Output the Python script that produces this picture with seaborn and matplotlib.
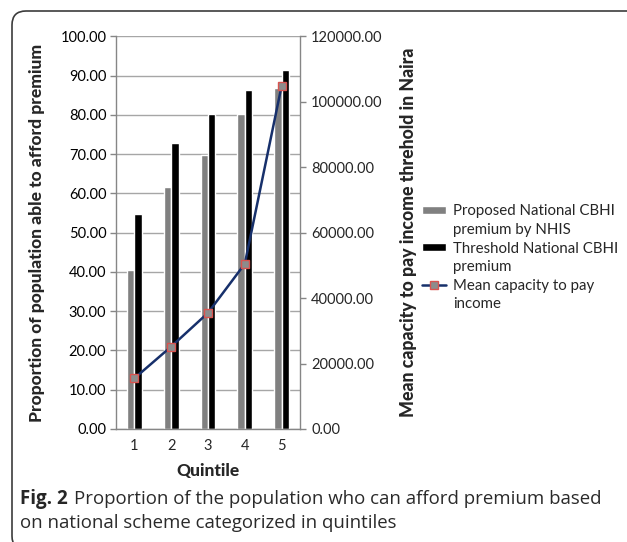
import numpy as np
import pandas as pd
import matplotlib
matplotlib.use("Agg")
import matplotlib.pyplot as plt
import seaborn as sns
from matplotlib.patches import Patch, FancyBboxPatch
from matplotlib.lines import Line2D
from matplotlib.transforms import IdentityTransform

# ---- data ----
quintiles = ["1", "2", "3", "4", "5"]
proposed_nhis = [40.6, 61.6, 69.9, 80.3, 87.0]
threshold_cbhi = [54.8, 72.9, 80.2, 86.3, 91.5]
mean_capacity = [15500, 25200, 35500, 50500, 104900]
left_ticks = [0, 10, 20, 30, 40, 50, 60, 70, 80, 90, 100]
right_ticks = [0, 20000, 40000, 60000, 80000, 100000, 120000]
series_names = ["Proposed National CBHI premium by NHIS", "Threshold National CBHI premium"]

sns.set_theme(style="white")
plt.rcParams['font.family'] = ['Lato', 'DejaVu Sans']

df = pd.DataFrame({
    "Quintile": quintiles * 2,
    "value": proposed_nhis + threshold_cbhi,
    "series": [series_names[0]] * 5 + [series_names[1]] * 5,
})

fig = plt.figure(figsize=(6.27, 5.42), dpi=100)
ax = fig.add_axes([0.185, 0.2085, 0.2935, 0.7242])

sns.barplot(data=df, x="Quintile", y="value", hue="series",
            palette=["#808080", "#000000"], width=0.4, gap=0,
            saturation=1, ax=ax, legend=False)
ax.set_xlim(-0.5, 4.5)
ax.set_ylim(0, 100)
ax.set_yticks(left_ticks)
ax.set_yticklabels([f"{v:.2f}" for v in left_ticks])
ax.yaxis.grid(True, color="#a6a6a6", linewidth=1.0)
ax.set_axisbelow(True)
for s in ["top", "right"]:
    ax.spines[s].set_visible(False)
for s in ["left", "bottom"]:
    ax.spines[s].set_color("#868686")
    ax.spines[s].set_linewidth(1.0)
ax.tick_params(axis="y", which="both", left=True, length=4, width=1,
               color="#868686", labelsize=10.5, pad=3, labelcolor="#000000")
ax.tick_params(axis="x", bottom=False, labelsize=10.5, pad=1)
ax.set_xlabel("Quintile", fontsize=12.5, fontweight="black")
ax.set_ylabel("Proportion of population able to afford premium", fontsize=12.6, fontweight="black")
ax.yaxis.set_label_coords(-0.386, 0.5)
ax.xaxis.set_label_coords(0.5, -0.087)

ax2 = ax.twinx()
sns.lineplot(x=np.arange(len(quintiles)), y=mean_capacity, ax=ax2,
             color="#17306b", linewidth=1.8, marker="s", markersize=6,
             markerfacecolor="#8c8c8c", markeredgecolor="#d9534f",
             markeredgewidth=1.0)
ax2.set_ylim(0, 120000)
ax2.set_xlim(-0.5, 4.5)
ax2.set_yticks(right_ticks)
ax2.set_yticklabels([f"{v:.2f}" for v in right_ticks])
for s in ["top", "left", "bottom"]:
    ax2.spines[s].set_visible(False)
ax2.spines["right"].set_color("#868686")
ax2.spines["right"].set_linewidth(1.0)
ax2.tick_params(axis="y", right=True, length=4, width=1, color="#868686",
                labelsize=10.5, pad=4)
ax2.set_ylabel("Mean capacity to pay income threhold in Naira", fontsize=12.8, fontweight="black")
ax2.yaxis.set_label_coords(1.543, 0.5)

# ---- legend ----
blank = Patch(facecolor="none", edgecolor="none")
handles = [Patch(facecolor="#808080"), blank,
           Patch(facecolor="#000000"), blank,
           Line2D([0], [0], color="#17306b", linewidth=1.8, marker="s", markersize=6,
                  markerfacecolor="#8c8c8c", markeredgecolor="#d9534f"), blank]
labels = ["Proposed National CBHI", "premium by NHIS",
          "Threshold National CBHI", "premium",
          "Mean capacity to pay", "income"]
fig.legend(handles, labels, loc="upper left", bbox_to_anchor=(0.661, 0.637),
           frameon=False, fontsize=10.8, labelspacing=0.31, handlelength=1.6,
           handleheight=0.45, handletextpad=0.5, borderpad=0)

# ---- frame ----
frame = FancyBboxPatch((12, -8), 640, 542 - 11 + 8,
                       boxstyle="round,pad=0,rounding_size=14",
                       transform=IdentityTransform(), facecolor="none",
                       edgecolor="#3c3c3c", linewidth=1.2)
fig.add_artist(frame)

# ---- caption ----
cap_font = ["Open Sans", "DejaVu Sans"]
fig.text(20 / 627, 1 - 504 / 542, "Fig. 2", fontsize=13.5, fontweight="bold",
         family=cap_font, va="baseline")
fig.text(74 / 627, 1 - 504 / 542,
         "Proportion of the population who can afford premium based",
         fontsize=13.4, family=cap_font, va="baseline", color="#2a2a2a")
fig.text(20 / 627, 1 - 528 / 542, "on national scheme categorized in quintiles",
         fontsize=13.4, family=cap_font, va="baseline", color="#2a2a2a")

fig.savefig("out.png", dpi=100)
